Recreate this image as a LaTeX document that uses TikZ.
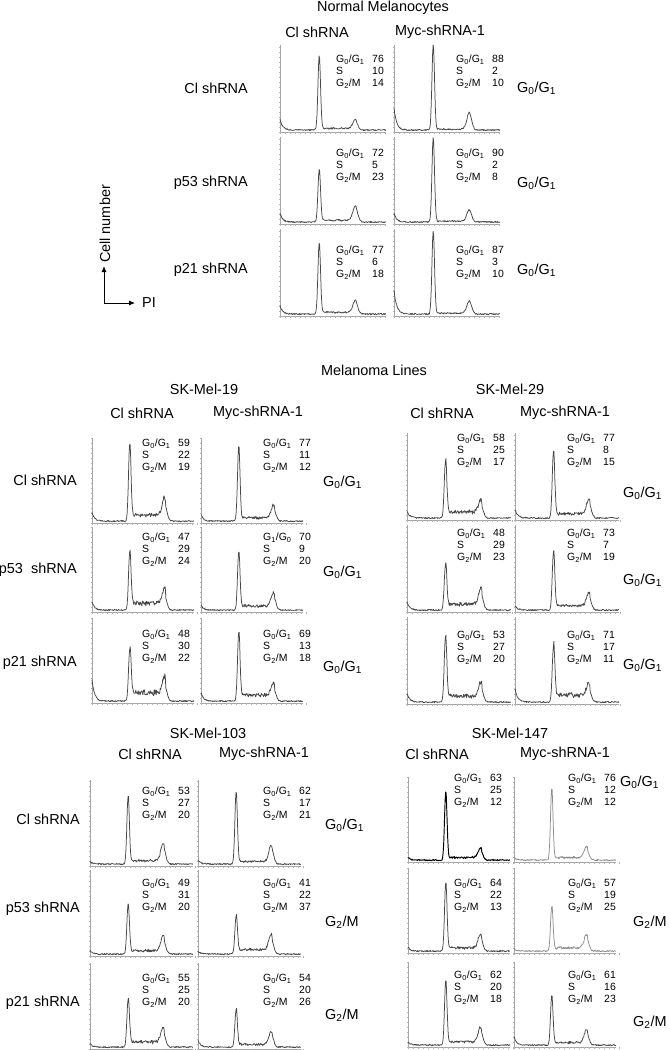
\documentclass[tikz,border=0pt]{standalone}
\usepackage{fontspec}
\setmainfont{Liberation Sans}
\usetikzlibrary{arrows.meta}

\tikzset{
  axisline/.style={gray!70, line width=0.5bp},
  tickline/.style={gray!60, line width=0.3bp},
  trace/.style={black!72, line width=0.75bp, line join=round},
  tracedark/.style={black, line width=0.95bp, line join=round},
  tracelight/.style={black!45, line width=0.75bp, line join=round},
  big/.style={font=\fontsize{14.5}{17}\selectfont, inner sep=0},
  stat/.style={font=\fontsize{10.5}{12}\selectfont, align=left, anchor=north west, inner sep=0},
  pointer/.style={line width=0.8bp, {Latex[length=6bp,width=5bp]}-{Latex[length=6bp,width=5bp]}}
}

% one histogram: x0, top, G1 peak, G2 peak, S level, debris spike, line style
\newcommand{\fpanel}[7]{%
  \draw[axisline] (#1,#2) -- (#1,#2+\panelh) -- (#1+\panelw,#2+\panelh);
  \foreach \k in {0,5,...,85} \draw[tickline] (#1,#2+\panelh-\k) -- ++(-1.5,0);
  \foreach \k in {0,5,...,105} \draw[tickline] (#1+\k,#2+\panelh) -- ++(0,1.5);
  \draw[#7] plot[domain=0:1,samples=201]
    ({#1+\x*\panelw},{#2+\panelh-\panelh*(#6*exp(-\x/0.025)+#3*gau(\x,0.37,0.017)
      +#4*gau(\x,0.71,0.032)+#5*(\x>0.37)*(\x<0.72)*(0.7+0.6*rnd)+0.015+0.015*rnd)});
}
% percentages beside a histogram
\newcommand{\fstats}[7]{%
  \node[stat] (#1) at (#2,#3-4) {\makebox[36bp][l]{#4}#5\\\makebox[36bp][l]{S}#6\\\makebox[36bp][l]{G\textsubscript{2}/M}#7};
}
\newcommand{\gog}{G\textsubscript{0}/G\textsubscript{1}}
\newcommand{\gtm}{G\textsubscript{2}/M}

\begin{document}
\begin{tikzpicture}[x=1bp,y=-1bp,
  declare function={gau(\u,\c,\w)=exp(-((\u-\c)/\w)*((\u-\c)/\w));}]
  \useasboundingbox (0,0) rectangle (670,1050);

  % Normal melanocytes
  \node[big] (nm) at (383,8) {Normal Melanocytes};
  \node[big] (nm-c1) at (317,32) {Cl shRNA};
  \node[big] (nm-c2) at (440,32) {Myc-shRNA-1};
  \node[big,anchor=east] (nm-r1) at (248,88) {Cl shRNA};
  \node[big,anchor=east] (nm-r2) at (248,183) {p53 shRNA};
  \node[big,anchor=east] (nm-r3) at (248,270) {p21 shRNA};
  \node[big,anchor=west] (nm-p1) at (517,88) {\gog};
  \node[big,anchor=west] (nm-p2) at (517,183) {\gog};
  \node[big,anchor=west] (nm-p3) at (517,270) {\gog};
  \def\panelw{106}\def\panelh{87}
  \fpanel{280}{45}{0.85}{0.10}{0.02}{0.12}{trace}
  \fpanel{394}{45}{0.98}{0.19}{0.01}{0.25}{trace}
  \fpanel{280}{137}{0.60}{0.17}{0.02}{0.10}{trace}
  \fpanel{394}{137}{0.97}{0.13}{0.01}{0.10}{trace}
  \fpanel{280}{229}{0.82}{0.14}{0.02}{0.10}{trace}
  \fpanel{394}{229}{0.95}{0.14}{0.01}{0.28}{trace}
  \fstats{nm-11}{336}{59}{\gog}{76}{10}{14}
  \fstats{nm-12}{456}{59}{\gog}{88}{2}{10}
  \fstats{nm-21}{336}{153}{\gog}{72}{5}{23}
  \fstats{nm-22}{456}{153}{\gog}{90}{2}{8}
  \fstats{nm-31}{336}{250}{\gog}{77}{6}{18}
  \fstats{nm-32}{456}{250}{\gog}{87}{3}{10}

  % axes key
  \node[big,rotate=90] (cellno) at (105,224) {Cell number};
  \coordinate (key-o) at (104,303);
  \coordinate (key-y) at (104,266);
  \coordinate (key-x) at (135,303);
  \draw[pointer] (key-y) -- (key-o) -- (key-x);
  \node[big,anchor=west] (pi) at (142,303) {PI};

  % Melanoma lines
  \node[big] (ml) at (374,370) {Melanoma Lines};

  % SK-Mel-19
  \node[big] (m19) at (204,389) {SK-Mel-19};
  \node[big] (m19-c1) at (142,413) {Cl shRNA};
  \node[big] (m19-c2) at (258,413) {Myc-shRNA-1};
  \node[big,anchor=east] (m19-r1) at (77,480) {Cl shRNA};
  \node[big,anchor=east] (m19-r2) at (77,570) {p53~ shRNA};
  \node[big,anchor=east] (m19-r3) at (77,663) {p21 shRNA};
  \node[big,anchor=west] (m19-p1) at (323,482) {\gog};
  \node[big,anchor=west] (m19-p2) at (323,572) {\gog};
  \node[big,anchor=west] (m19-p3) at (323,667) {\gog};
  \def\panelw{102}\def\panelh{85}
  \fpanel{92}{438}{0.90}{0.21}{0.07}{0.10}{trace}
  \fpanel{201}{438}{0.88}{0.15}{0.04}{0.08}{trace}
  \fpanel{92}{527}{0.68}{0.17}{0.08}{0.10}{trace}
  \fpanel{201}{527}{0.68}{0.16}{0.05}{0.06}{trace}
  \fpanel{92}{618}{0.60}{0.19}{0.10}{0.25}{trace}
  \fpanel{201}{618}{0.80}{0.15}{0.07}{0.10}{trace}
  \fstats{m19-11}{142}{443}{\gog}{59}{22}{19}
  \fstats{m19-12}{263}{443}{\gog}{77}{11}{12}
  \fstats{m19-21}{142}{537}{\gog}{47}{29}{24}
  \fstats{m19-22}{263}{537}{G\textsubscript{1}/G\textsubscript{0}}{70}{9}{20}
  \fstats{m19-31}{142}{634}{\gog}{48}{30}{22}
  \fstats{m19-32}{263}{634}{\gog}{69}{13}{18}

  % SK-Mel-29
  \node[big] (m29) at (510,389) {SK-Mel-29};
  \node[big] (m29-c1) at (442,413) {Cl shRNA};
  \node[big] (m29-c2) at (565,413) {Myc-shRNA-1};
  \node[big,anchor=west] (m29-p1) at (623,493) {\gog};
  \node[big,anchor=west] (m29-p2) at (623,580) {\gog};
  \node[big,anchor=west] (m29-p3) at (623,665) {\gog};
  \def\panelw{104}\def\panelh{87}
  \fpanel{407}{433}{0.65}{0.14}{0.07}{0.08}{trace}
  \fpanel{515}{433}{0.76}{0.17}{0.05}{0.10}{trace}
  \fpanel{407}{525}{0.52}{0.18}{0.07}{0.10}{trace}
  \fpanel{515}{525}{0.67}{0.15}{0.05}{0.05}{trace}
  \fpanel{407}{617}{0.75}{0.16}{0.07}{0.10}{trace}
  \fpanel{515}{617}{0.64}{0.14}{0.08}{0.15}{trace}
  \fstats{m29-11}{457}{438}{\gog}{58}{25}{17}
  \fstats{m29-12}{567}{438}{\gog}{77}{8}{15}
  \fstats{m29-21}{457}{533}{\gog}{48}{29}{23}
  \fstats{m29-22}{567}{533}{\gog}{73}{7}{19}
  \fstats{m29-31}{457}{635}{\gog}{53}{27}{20}
  \fstats{m29-32}{567}{635}{\gog}{71}{17}{11}

  % SK-Mel-103
  \node[big] (m103) at (208,733) {SK-Mel-103};
  \node[big] (m103-c1) at (150,754) {Cl shRNA};
  \node[big] (m103-c2) at (264,754) {Myc-shRNA-1};
  \node[big,anchor=east] (m103-r1) at (80,819) {Cl shRNA};
  \node[big,anchor=east] (m103-r2) at (80,909) {p53 shRNA};
  \node[big,anchor=east] (m103-r3) at (80,1003) {p21 shRNA};
  \node[big,anchor=west] (m103-p1) at (325,825) {\gog};
  \node[big,anchor=west] (m103-p2) at (325,922) {\gtm};
  \node[big,anchor=west] (m103-p3) at (325,1015) {\gtm};
  \def\panelw{103}\def\panelh{86}
  \fpanel{90}{780}{0.78}{0.20}{0.04}{0.03}{trace}
  \fpanel{198}{780}{0.84}{0.19}{0.03}{0.05}{trace}
  \fpanel{90}{870}{0.58}{0.17}{0.04}{0.04}{trace}
  \fpanel{198}{870}{0.44}{0.18}{0.05}{0.03}{trace}
  \fpanel{90}{963}{0.55}{0.17}{0.06}{0.04}{trace}
  \fpanel{198}{963}{0.44}{0.15}{0.03}{0.08}{trace}
  \fstats{m103-11}{142}{791}{\gog}{53}{27}{20}
  \fstats{m103-12}{263}{791}{\gog}{62}{17}{21}
  \fstats{m103-21}{142}{883}{\gog}{49}{31}{20}
  \fstats{m103-22}{263}{883}{\gog}{41}{22}{37}
  \fstats{m103-31}{142}{978}{\gog}{55}{25}{20}
  \fstats{m103-32}{263}{978}{\gog}{54}{20}{26}

  % SK-Mel-147
  \node[big] (m147) at (510,733) {SK-Mel-147};
  \node[big] (m147-c1) at (437,754) {Cl shRNA};
  \node[big] (m147-c2) at (565,754) {Myc-shRNA-1};
  \node[big,anchor=west] (m147-p1) at (620,782) {\gog};
  \node[big,anchor=west] (m147-p2) at (633,922) {\gtm};
  \node[big,anchor=west] (m147-p3) at (633,1022) {\gtm};
  \def\panelw{102}\def\panelh{85}
  \fpanel{408}{777}{0.80}{0.11}{0.03}{0.03}{tracedark}
  \fpanel{514}{777}{0.84}{0.13}{0.03}{0.03}{tracelight}
  \fpanel{408}{868}{0.80}{0.16}{0.04}{0.05}{trace}
  \fpanel{514}{868}{0.52}{0.16}{0.04}{0.03}{tracelight}
  \fpanel{408}{962}{0.76}{0.17}{0.04}{0.04}{trace}
  \fpanel{514}{962}{0.58}{0.15}{0.03}{0.10}{trace}
  \fstats{m147-11}{454}{778}{\gog}{63}{25}{12}
  \fstats{m147-12}{568}{778}{\gog}{76}{12}{12}
  \fstats{m147-21}{454}{883}{\gog}{64}{22}{13}
  \fstats{m147-22}{568}{883}{\gog}{57}{19}{25}
  \fstats{m147-31}{454}{975}{\gog}{62}{20}{18}
  \fstats{m147-32}{568}{975}{\gog}{61}{16}{23}
\end{tikzpicture}
\end{document}
